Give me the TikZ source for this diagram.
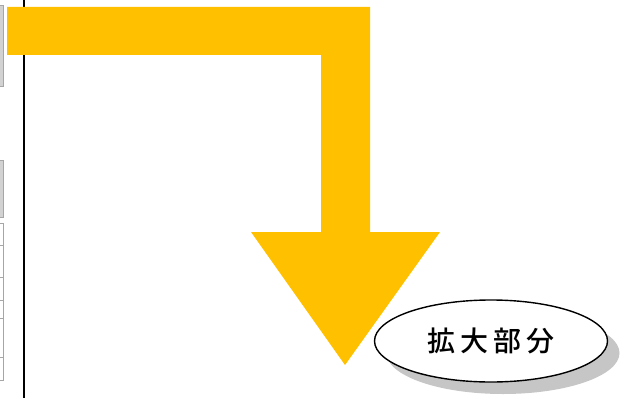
\documentclass[tikz,border=0pt]{standalone}
\usepackage{fontspec}
\newfontfamily\jpfont{Noto Sans CJK JP Medium}
\usetikzlibrary{shapes.geometric,shadows}

\definecolor{arrowyellow}{HTML}{FFC000}

\tikzset{
	bigarrow/.style={fill=arrowyellow, draw=none},
	edgebar/.style={draw=gray!70, fill=gray!35, line width=0.8pt},
	calloutbox/.style={shape=ellipse, draw=black, line width=1.4pt, fill=white,
		minimum width=233pt, minimum height=82pt, inner sep=0pt,
		drop shadow={shadow xshift=12pt, shadow yshift=-12pt, fill=gray!45, opacity=1}}
}

\begin{document}
\begin{tikzpicture}[x=1pt,y=-1pt]
	
	\useasboundingbox (0,0) rectangle (620,398);
	
	% cut-off edge of the page on the left
	\draw[edgebar] (-1,5) rectangle (3,86);
	\draw[edgebar] (-1,160) rectangle (3,217);
	\draw[edgebar, fill=white] (-1,223) rectangle (3,380);
	\foreach \y in {245,277,300,318,357}
		\draw[gray!70, line width=0.8pt] (-1,\y) -- (3,\y);
	\draw[black, line width=1.6pt] (24,0) -- (24,398);
	
	% the bent arrow
	\fill[bigarrow] (7,7) -- (370,7) -- (370,232) -- (440,232) -- (345,365)
		-- (251,232) -- (321,232) -- (321,55) -- (7,55) -- cycle;
	
	\node[calloutbox] (zoom) at (491,341) {\jpfont\fontsize{28pt}{32pt}\selectfont\addfontfeature{LetterSpace=18}拡大部分};
	
\end{tikzpicture}
\end{document}
